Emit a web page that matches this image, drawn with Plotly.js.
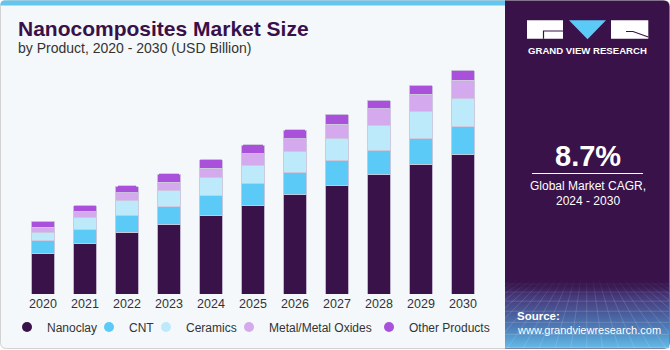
<!DOCTYPE html>
<html><head><meta charset="utf-8">
<script src="https://cdn.plot.ly/plotly-3.0.1.min.js"></script>
<style>html,body{margin:0;padding:0;background:#fff}#chart{width:670px;height:350px}</style>
</head><body><div id="chart"></div>
<script>
// ---- data (USD Billion) ----
const years = ['2020','2021','2022','2023','2024','2025','2026','2027','2028','2029','2030'];
const nanoclay      = [2.76,3.47,4.26,4.76,5.43,6.09,6.83,7.45,8.21,8.94,9.61];
const cnt           = [0.90,0.97,1.17,1.26,1.35,1.54,1.57,1.79,1.70,1.77,1.91];
const ceramics      = [0.57,0.81,1.01,1.10,1.24,1.24,1.40,1.47,1.74,1.89,1.95];
const metalOxides   = [0.39,0.43,0.55,0.60,0.65,0.80,0.90,0.99,1.12,1.17,1.29];
const otherProducts = [0.41,0.44,0.46,0.57,0.62,0.62,0.62,0.71,0.60,0.64,0.69];
const seriesNames = ['Nanoclay','CNT','Ceramics','Metal/Metal Oxides','Other Products'];
const seriesColors = ['#381249','#5ccaf7','#bdeafb','#d5a9ee','#a951da'];
const labelYear = '2023';
const labelText = '$8.3B';
const cagrText = '8.7%';

// ---- geometry helpers (pixel -> paper) ----
const L = 22, T = 60, W = 462, H = 234;
const X = px => (px - L) / W;
const Y = py => (T + H - py) / H;
const P = (px, py) => X(px) + ',' + Y(py);
function rr(x0, y0, x1, y1, a, b, c, d) {
  return 'M' + P(x0 + a, y0) + ' L' + P(x1 - b, y0) + ' Q' + P(x1, y0) + ' ' + P(x1, y0 + b) +
    ' L' + P(x1, y1 - c) + ' Q' + P(x1, y1) + ' ' + P(x1 - c, y1) +
    ' L' + P(x0 + d, y1) + ' Q' + P(x0, y1) + ' ' + P(x0, y1 - d) +
    ' L' + P(x0, y0 + a) + ' Q' + P(x0, y0) + ' ' + P(x0 + a, y0) + ' Z';
}

const FONT = 'Liberation Sans, Arial, sans-serif';
const values = [nanoclay, cnt, ceramics, metalOxides, otherProducts];

const traces = values.map((v, i) => ({
  type: 'bar', x: years, y: v, name: seriesNames[i],
  marker: { color: seriesColors[i], line: { color: 'rgba(205,200,220,0.9)', width: 1 } },
  showlegend: false, hoverinfo: 'x+y+name'
}));

// legend entries (circle symbols) on a hidden helper axis, one legend each for exact placement
const legendCircleX = [30, 112, 169, 252, 392];
const legendKeys = ['legend', 'legend2', 'legend3', 'legend4', 'legend5'];
seriesNames.forEach((n, i) => {
  traces.push({
    type: 'scatter', mode: 'markers', x: [null], y: [null], name: n, xaxis: 'x2', yaxis: 'y2',
    marker: { color: seriesColors[i], size: 10 }, legend: legendKeys[i],
    hoverinfo: 'skip', showlegend: true
  });
});

const totals = years.map((_, i) => values.reduce((s, a) => s + a[i], 0));
const li = years.indexOf(labelYear);

const layout = {
  width: 670, height: 350,
  margin: { l: L, r: 670 - L - W, t: T, b: 350 - T - H, pad: 0, autoexpand: false },
  paper_bgcolor: '#ffffff', plot_bgcolor: 'rgba(0,0,0,0)',
  barmode: 'stack', bargap: 0.43, barcornerradius: 3,
  font: { family: FONT, color: '#333333' },
  xaxis: { type: 'category', categoryorder: 'array', categoryarray: years, range: [-0.5, years.length - 0.5],
    showgrid: false, zeroline: false, showline: false, ticks: '', automargin: false,
    tickfont: { size: 12.5, color: '#333333', family: FONT }, fixedrange: true },
  yaxis: { visible: false, range: [0, 16.14], fixedrange: true },
  xaxis2: { visible: false, overlaying: 'x', range: [0, 1] },
  yaxis2: { visible: false, overlaying: 'y', range: [0, 1] },
  showlegend: true,
  shapes: [
    { type: 'path', xref: 'paper', yref: 'paper', layer: 'below', path: rr(0.5, 0.5, 669.5, 348.5, 6, 6, 6, 6),
      fillcolor: '#f4f8fb', line: { color: '#d2d2d2', width: 1 } },
    { type: 'path', xref: 'paper', yref: 'paper', layer: 'below', path: rr(0.5, 0.5, 506, 5.5, 4, 0, 0, 0),
      fillcolor: '#62c6ef', line: { width: 0 } },
    { type: 'path', xref: 'paper', yref: 'paper', layer: 'below', path: rr(505, 0.5, 669.5, 348.5, 0, 6, 6, 0),
      fillcolor: '#381249', line: { width: 0 } },
    // logo
    { type: 'rect', xref: 'paper', yref: 'paper', layer: 'below', x0: X(527), x1: X(563), y0: Y(20.3), y1: Y(38.7), fillcolor: '#ffffff', line: { width: 0 } },
    { type: 'path', xref: 'paper', yref: 'paper', layer: 'below', path: 'M' + P(543.5, 38.7) + ' L' + P(543.5, 31) + ' L' + P(563, 31), line: { color: '#381249', width: 1.2 } },
    { type: 'path', xref: 'paper', yref: 'paper', layer: 'below', path: 'M' + P(569, 20.3) + ' L' + P(606, 20.3) + ' L' + P(587.5, 39.3) + ' Z', fillcolor: '#5ccaf7', line: { width: 0 } },
    { type: 'rect', xref: 'paper', yref: 'paper', layer: 'below', x0: X(611), x1: X(648.3), y0: Y(20.3), y1: Y(38.7), fillcolor: '#ffffff', line: { width: 0 } },
    { type: 'path', xref: 'paper', yref: 'paper', layer: 'below', path: 'M' + P(626, 31.5) + ' L' + P(633, 31.5) + ' L' + P(648.3, 37), line: { color: '#381249', width: 1.2 } },
    // CAGR divider
    { type: 'line', xref: 'paper', yref: 'paper', x0: X(532), x1: X(643), y0: Y(173.5), y1: Y(173.5), line: { color: '#ffffff', width: 1 } }
  ],
  images: [],
  annotations: [
    { xref: 'paper', yref: 'paper', x: X(16), y: Y(28), xanchor: 'left', yanchor: 'middle', showarrow: false,
      text: '<b>Nanocomposites Market Size</b>', font: { size: 21, color: '#3a1049', family: FONT } },
    { xref: 'paper', yref: 'paper', x: X(16), y: Y(48.5), xanchor: 'left', yanchor: 'middle', showarrow: false,
      text: 'by Product, 2020 - 2030 (USD Billion)', font: { size: 14, color: '#333333', family: FONT } },
    { xref: 'x', yref: 'y', x: labelYear, y: totals[li], xanchor: 'center', yanchor: 'bottom', yshift: 5, showarrow: false,
      text: labelText, font: { size: 13, color: '#333333', family: FONT } },
    { xref: 'paper', yref: 'paper', x: X(587.5), y: Y(50.5), xanchor: 'center', yanchor: 'middle', showarrow: false,
      text: '<b>GRAND VIEW RESEARCH</b>', font: { size: 9.6, color: '#ffffff', family: FONT } },
    { xref: 'paper', yref: 'paper', x: X(588), y: Y(156), xanchor: 'center', yanchor: 'middle', showarrow: false,
      text: '<b>' + cagrText + '</b>', font: { size: 29, color: '#ffffff', family: FONT } },
    { xref: 'paper', yref: 'paper', x: X(588), y: Y(186), xanchor: 'center', yanchor: 'middle', showarrow: false,
      text: 'Global Market CAGR,', font: { size: 12, color: '#ffffff', family: FONT } },
    { xref: 'paper', yref: 'paper', x: X(588), y: Y(201), xanchor: 'center', yanchor: 'middle', showarrow: false,
      text: '2024 - 2030', font: { size: 12, color: '#ffffff', family: FONT } },
    { xref: 'paper', yref: 'paper', x: X(515), y: Y(316), xanchor: 'left', yanchor: 'middle', showarrow: false,
      text: '<b>Source:</b>', font: { size: 11.5, color: '#ffffff', family: FONT } },
    { xref: 'paper', yref: 'paper', x: X(515), y: Y(329.5), xanchor: 'left', yanchor: 'middle', showarrow: false,
      text: 'www.grandviewresearch.com', font: { size: 11, color: '#ffffff', family: FONT } }
  ]
};

// gradient / grid at the bottom of the side panel
(function () {
  let lines = '';
  const hs = [6, 14, 23, 33, 44, 56, 69];
  hs.forEach(h => { lines += `<line x1='0' y1='${h}' x2='165' y2='${h}' stroke='white' stroke-opacity='0.22' stroke-width='0.7'/>`; });
  for (let k = -12; k <= 24; k++) {
    const xt = 82 + k * 6, xb = 82 + k * 16;
    lines += `<line x1='${xt}' y1='0' x2='${xb}' y2='70' stroke='white' stroke-opacity='0.2' stroke-width='0.7'/>`;
  }
  const svg = `<svg xmlns='http://www.w3.org/2000/svg' width='165' height='70' viewBox='0 0 165 70'>` +
    `<defs><linearGradient id='g' x1='0' y1='0' x2='0' y2='1'>` +
    `<stop offset='0' stop-color='#381249' stop-opacity='0'/>` +
    `<stop offset='0.25' stop-color='#463c7e' stop-opacity='0.9'/>` +
    `<stop offset='0.7' stop-color='#4e7cb8'/>` +
    `<stop offset='1' stop-color='#63bde9'/></linearGradient>` +
    `<linearGradient id='m' x1='0' y1='0' x2='0' y2='1'><stop offset='0' stop-color='white' stop-opacity='0'/><stop offset='0.3' stop-color='white' stop-opacity='1'/></linearGradient>` +
    `<mask id='mk'><rect width='165' height='70' fill='url(#m)'/></mask></defs>` +
    `<rect width='165' height='70' fill='url(#g)'/><g mask='url(#mk)'>${lines}</g></svg>`;
  layout.images.push({
    source: 'data:image/svg+xml;charset=utf-8,' + encodeURIComponent(svg),
    xref: 'paper', yref: 'paper', x: X(505), y: Y(278), sizex: X(669.5) - X(505), sizey: Y(278) - Y(348.5),
    xanchor: 'left', yanchor: 'top', sizing: 'stretch', layer: 'above'
  });
})();

legendKeys.forEach((k, i) => {
  layout[k] = {
    orientation: 'h', x: X(legendCircleX[i] - 23), y: Y(327), xanchor: 'left', yanchor: 'middle',
    bgcolor: 'rgba(0,0,0,0)', borderwidth: 0, font: { size: 12, color: '#333333', family: FONT },
    itemclick: false, itemdoubleclick: false
  };
});

Plotly.newPlot('chart', traces, layout, { displayModeBar: false, staticPlot: true });
</script>
</body></html>
